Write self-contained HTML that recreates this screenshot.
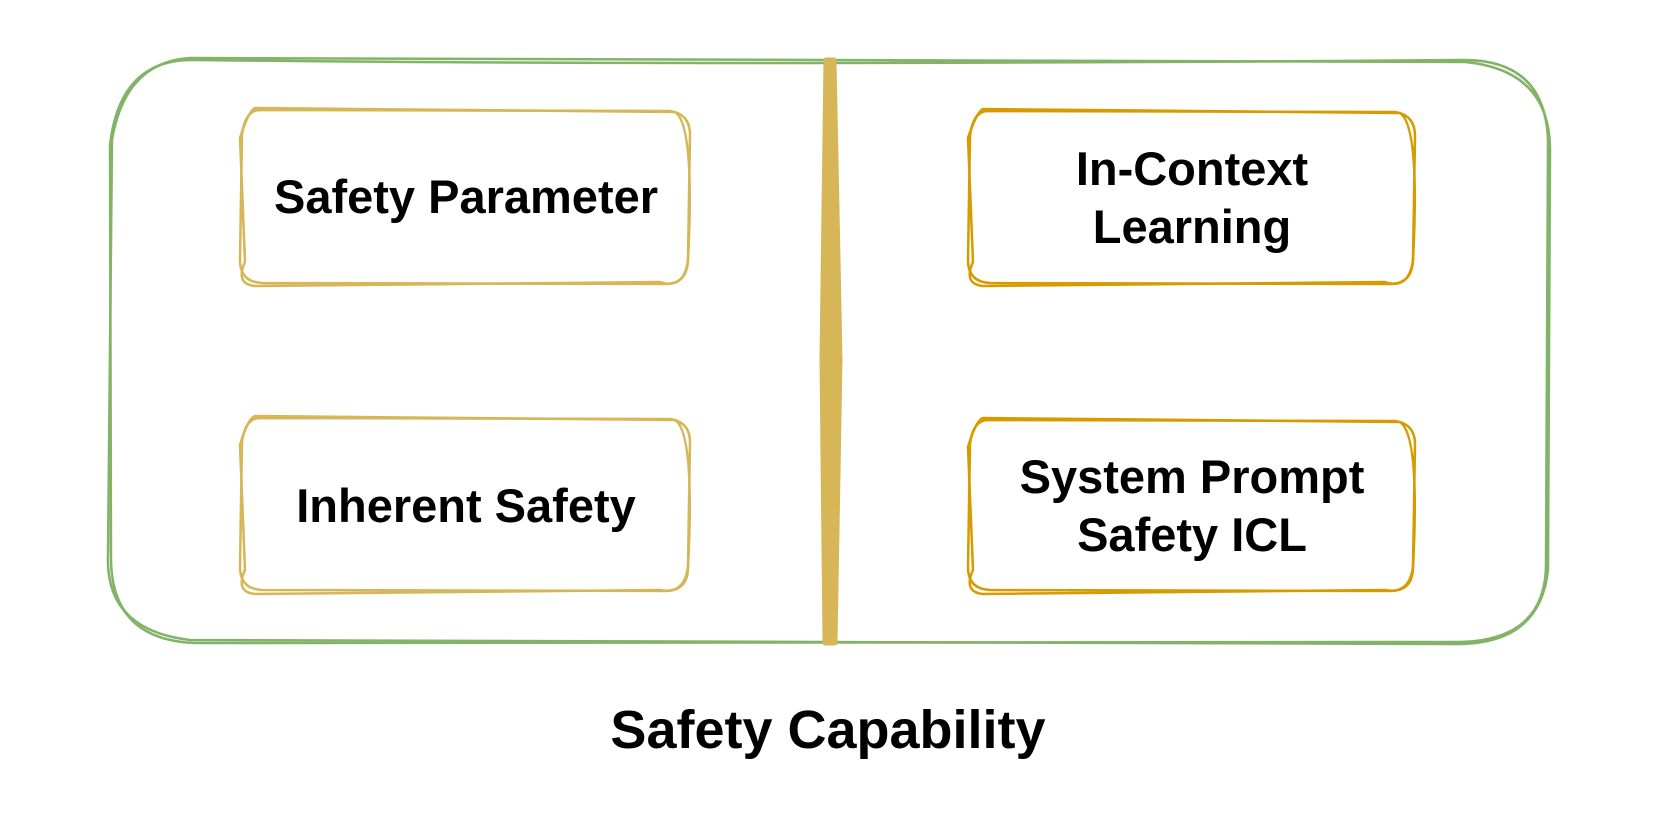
<!DOCTYPE html>
<html><head><style>
html,body{margin:0;padding:0;background:#fff;width:1661px;height:837px;overflow:hidden}
svg{position:absolute;left:0;top:0}
text{font-family:"Liberation Sans",Arial,sans-serif;font-weight:bold;fill:#000;text-anchor:middle}
</style></head><body>
<svg width="1661" height="837" viewBox="0 0 1661 837">
<g fill="none" stroke="#82b366" stroke-width="2.5">
<path d="M195 60 Q700 66 1460 60 Q1545 58 1548 140 L1546 560 Q1548 640 1460 642 L195 643 Q112 640 111 560 L110 145 Q120 58 195 60Z"/>
<path d="M190 58 Q700 62 1465 62 Q1550 70 1550 150 L1548 570 Q1540 645 1455 644 L190 640 Q105 630 108 555 L112 140 Q125 62 190 58Z"/>
</g>
<path d="M826 60 L834 60 L840 360 L835 643 L825 643 L822 360Z" fill="#d6b656" stroke="#d6b656" stroke-width="5" stroke-linejoin="round"/>
<g fill="none" stroke="#d6b656" stroke-width="2.5">
<path d="M260 110 L670 111 Q690 114 690 135 L688 258 Q688 284 665 284 L262 283 Q240 282 240 260 L242 135 Q245 110 260 110Z"/>
<path d="M255 108 L675 112 Q695 125 688 260 Q684 290 660 282 L255 286 Q235 284 245 262 L240 138 Q248 112 255 108Z"/>
<path d="M260 418 L670 419 Q690 422 690 442 L688 567 Q688 591 665 591 L262 590 Q240 589 240 567 L242 442 Q245 418 260 418Z"/>
<path d="M255 416 L675 420 Q695 433 688 567 Q684 595 660 590 L255 594 Q235 592 245 570 L240 445 Q248 418 255 416Z"/>
</g>
<g fill="none" stroke="#d79b00" stroke-width="2.5">
<path d="M988 111 L1395 112 Q1415 115 1415 136 L1413 258 Q1413 284 1390 284 L990 283 Q968 282 968 260 L970 136 Q973 111 988 111Z"/>
<path d="M983 109 L1400 113 Q1420 126 1413 260 Q1409 290 1385 282 L983 286 Q963 284 973 262 L968 138 Q976 113 983 109Z"/>
<path d="M988 420 L1395 421 Q1415 424 1415 444 L1413 567 Q1413 591 1390 591 L990 590 Q968 589 968 567 L970 444 Q973 420 988 420Z"/>
<path d="M983 418 L1400 422 Q1420 435 1413 567 Q1409 595 1385 590 L983 594 Q963 592 973 570 L968 447 Q976 420 983 418Z"/>
</g>
<g font-size="47">
<text x="466" y="213">Safety Parameter</text>
<text x="466" y="522">Inherent Safety</text>
<text x="1192" y="185">In-Context</text>
<text x="1192" y="243">Learning</text>
<text x="1192" y="493">System Prompt</text>
<text x="1192" y="551">Safety ICL</text>
</g>
<text x="828" y="748" font-size="54">Safety Capability</text>
</svg>
</body></html>
